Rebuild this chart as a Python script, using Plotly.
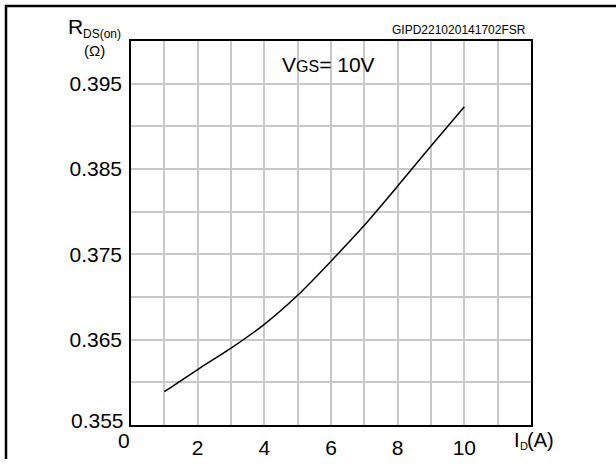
import plotly.graph_objects as go

# Data
drain_current_A = [1, 2, 3, 4, 5, 6, 7, 8, 9, 10]
rds_on_ohm = [0.3589, 0.3615, 0.3640, 0.3668, 0.3702, 0.3742, 0.3784, 0.3830, 0.3877, 0.3923]

x_tickvals = [1, 2, 3, 4, 5, 6, 7, 8, 9, 10, 11, 12]
x_ticktext = ["", "2", "", "4", "", "6", "", "8", "", "10", "", ""]
y_tickvals = [0.355, 0.360, 0.365, 0.370, 0.375, 0.380, 0.385, 0.390, 0.395, 0.400]
y_ticktext = ["", "", "0.365", "", "0.375", "", "0.385", "", "0.395", ""]
x_origin_label = "0"
y_origin_label = "0.355"

FONT = "Liberation Sans, Arial, sans-serif"
W, H = 616, 471
L, R, T, B = 131, 85, 41, 35
pw, ph = W - L - R, H - T - B

def px(xp):
    return (xp - L) / pw

def py(yp):
    return (H - B - yp) / ph

fig = go.Figure()
fig.add_trace(go.Scatter(
    x=drain_current_A, y=rds_on_ohm, mode="lines",
    line=dict(color="black", width=1.5, shape="spline", smoothing=0.6),
    showlegend=False, hoverinfo="skip"))

fig.update_layout(
    width=W, height=H, autosize=False,
    margin=dict(l=L, r=R, t=T, b=B, pad=0),
    paper_bgcolor="white", plot_bgcolor="white",
    font=dict(family=FONT, color="black", size=21),
    xaxis=dict(range=[0, 12], tickvals=x_tickvals, ticktext=x_ticktext,
               showgrid=True, gridcolor="#c8c8c8", gridwidth=1.5,
               showline=True, linecolor="black", linewidth=1.5, mirror=True,
               ticks="outside", ticklen=3, tickcolor="rgba(0,0,0,0)",
               zeroline=False, fixedrange=True,
               tickfont=dict(size=21, family=FONT)),
    yaxis=dict(range=[0.355, 0.400], tickvals=y_tickvals, ticktext=y_ticktext,
               showgrid=True, gridcolor="#c8c8c8", gridwidth=1.5,
               showline=True, linecolor="black", linewidth=1.5, mirror=True,
               ticks="outside", ticklen=3, tickcolor="rgba(0,0,0,0)",
               zeroline=False, fixedrange=True,
               tickfont=dict(size=21, family=FONT)),
)

# Outer frame (top and left edges visible; right/bottom run off the picture)
fig.add_shape(type="line", xref="paper", yref="paper",
              x0=px(5), x1=px(W), y0=py(5), y1=py(5),
              line=dict(color="black", width=2.5), layer="above")
fig.add_shape(type="line", xref="paper", yref="paper",
              x0=px(6), x1=px(6), y0=py(4), y1=py(H),
              line=dict(color="black", width=2.5), layer="above")

# Origin labels, nudged as in the reference
fig.add_annotation(x=0, y=0.355, xref="x", yref="y", text=x_origin_label, showarrow=False,
                   xanchor="center", yanchor="middle", xshift=-7, yshift=-15,
                   font=dict(size=21))
fig.add_annotation(x=0, y=0.355, xref="x", yref="y", text=y_origin_label, showarrow=False,
                   xanchor="right", yanchor="middle", xshift=-5, yshift=5,
                   font=dict(size=21))

ann = [
    dict(x=px(527), y=py(30), text="GIPD221020141702FSR", xanchor="right", yanchor="middle",
         font=dict(size=12)),
    dict(x=px(281), y=py(65), text="V<span style='font-size:16px'>GS</span>= 10V",
         xanchor="left", yanchor="middle", font=dict(size=21)),
    dict(x=px(67), y=py(26), text="R", xanchor="left", yanchor="middle", font=dict(size=21)),
    dict(x=px(82), y=py(34), text="DS(on)", xanchor="left", yanchor="middle", font=dict(size=12)),
    dict(x=px(83), y=py(51), text="(Ω)", xanchor="left", yanchor="middle", font=dict(size=15)),
    dict(x=px(513), y=py(451), text="I", xanchor="left", yanchor="middle", font=dict(size=20)),
    dict(x=px(519), y=py(458), text="D", xanchor="left", yanchor="middle", font=dict(size=11)),
    dict(x=px(526), y=py(451), text="(A)", xanchor="left", yanchor="middle", font=dict(size=20)),
]
for a in ann:
    fig.add_annotation(xref="paper", yref="paper", showarrow=False, borderpad=0, **a)

fig.write_html("out.html", config={"displayModeBar": False},
               post_script="document.body.style.margin='0';")
